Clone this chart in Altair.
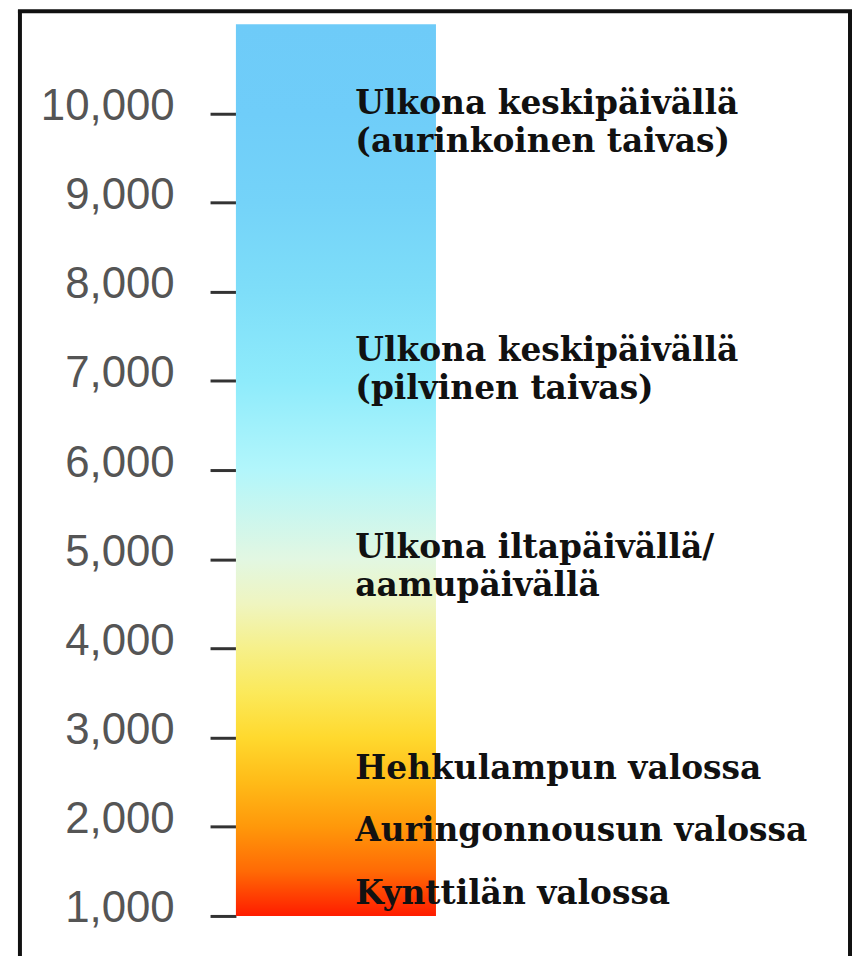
import altair as alt
import pandas as pd

# ---- data ----
tick_values = [1000, 2000, 3000, 4000, 5000, 6000, 7000, 8000, 9000, 10000]
bar_bottom = 1000
bar_top = 11000

stop_temps = [11000, 10000, 9000, 8000, 7000, 6000, 5000, 4500, 4000, 3500, 3000, 2500, 2000, 1500, 1000]
stop_colors = ["#6ecbf8", "#6fcdf9", "#74d3f9", "#7edef9", "#8eebfb", "#b2f6fb", "#e2f7e2",
               "#eff5c0", "#f6f08a", "#fbe95a", "#ffd92e", "#ffbb18", "#ff980a", "#ff6a05", "#ff1c00"]

label_temps = [10100, 7330, 5120, 2650, 1950, 1250]
label_texts = [
    "Ulkona keskipäivällä\n(aurinkoinen taivas)",
    "Ulkona keskipäivällä\n(pilvinen taivas)",
    "Ulkona iltapäivällä/\naamupäivällä",
    "Hehkulampun valossa",
    "Auringonnousun valossa",
    "Kynttilän valossa",
]

# ---- layout ----
W, H = 836, 948
y_scale = alt.Scale(domain=[576, 11156], nice=False, zero=False)

gradient = alt.Gradient(
    gradient="linear",
    x1=0, x2=0, y1=0, y2=1,
    stops=[alt.GradientStop(offset=(bar_top - t) / (bar_top - bar_bottom), color=c)
           for t, c in zip(stop_temps, stop_colors)],
)

bar_df = pd.DataFrame({"lo": [bar_bottom], "hi": [bar_top]})
label_df = pd.DataFrame({"temp": label_temps, "text": label_texts})

bar = alt.Chart(bar_df).mark_rect(color=gradient).encode(
    x=alt.value(217),
    x2=alt.value(418),
    y=alt.Y(
        "hi:Q",
        scale=y_scale,
        axis=alt.Axis(
            values=tick_values, format=",.0f", orient="left", offset=-217,
            domain=False, grid=False, ticks=True, tickSize=26, tickWidth=3,
            tickColor="#333333", labelFont="Liberation Sans", labelFontSize=44,
            labelColor="#555555", labelPadding=36, labelBaseline="alphabetic",
            labelOffset=6, title=None,
        ),
    ),
    y2="lo:Q",
)

labels = alt.Chart(label_df).mark_text(
    align="left", baseline="middle", font="DejaVu Serif", fontWeight="bold",
    fontSize=33, lineHeight=38, color="#111111", lineBreak="\n",
).encode(
    x=alt.value(337),
    y=alt.Y("temp:Q", scale=y_scale),
    text="text:N",
)

frame_style = dict(color="#111111", strokeWidth=4)
left_rule = alt.Chart(bar_df).mark_rule(**frame_style).encode(
    x=alt.value(0), y=alt.value(0), y2=alt.value(H + 20))
right_rule = alt.Chart(bar_df).mark_rule(**frame_style).encode(
    x=alt.value(834), y=alt.value(0), y2=alt.value(H + 20))
top_rule = alt.Chart(bar_df).mark_rule(**frame_style).encode(
    x=alt.value(-2), x2=alt.value(836), y=alt.value(1))

chart = alt.layer(bar, labels, left_rule, right_rule, top_rule).properties(
    width=W, height=H,
    padding={"left": 12, "top": 0, "right": 0, "bottom": 0},
    autosize=alt.AutoSizeParams(type="none"),
    background="white",
).configure_view(stroke=None)

chart.save("out.html", embed_options={"renderer": "svg", "actions": False})
